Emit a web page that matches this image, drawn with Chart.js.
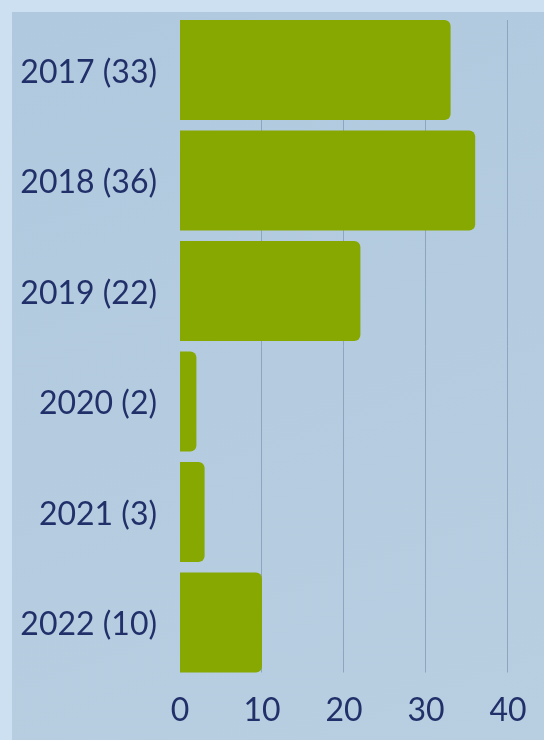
<!DOCTYPE html>
<html>
<head>
<meta charset="utf-8">
<script src="https://cdn.jsdelivr.net/npm/chart.js@4"></script>
<style>
  html, body { margin: 0; padding: 0; }
  body { width: 544px; height: 740px; background: #cde0f2; position: relative; overflow: hidden; }
  #panel { position: absolute; left: 12px; top: 12px; right: 0; bottom: 0;
    background: linear-gradient(160deg, #b0c9de 0%, #b5cce0 50%, #b8cee1 100%); }
  #chart { position: absolute; left: 0; top: 0; }
</style>
</head>
<body>
<div id="panel"></div>
<canvas id="chart" width="544" height="740"></canvas>
<script>
var years = ['2017', '2018', '2019', '2020', '2021', '2022'];
var counts = [33, 36, 22, 2, 3, 10];
var xTicks = [0, 10, 20, 30, 40];

var navy = '#22306a';
var green = '#86a800';
var gridColor = '#8ea5bf';

// 막대 범위 안에서만 세로 격자선 그리기
var gridPlugin = {
  id: 'barGrid',
  beforeDatasetsDraw: function(chart){
    var meta = chart.getDatasetMeta(0);
    var first = meta.data[0];
    var last = meta.data[meta.data.length - 1];
    var top = first.y - first.height / 2;
    var bottom = last.y + last.height / 2;
    var x = chart.scales.x;
    var ctx = chart.ctx;
    ctx.save();
    ctx.strokeStyle = gridColor;
    ctx.lineWidth = 1;
    x.ticks.forEach(function(t){
      if (t.value === 0) return;
      var px = Math.round(x.getPixelForValue(t.value)) - 0.5;
      ctx.beginPath();
      ctx.moveTo(px, top);
      ctx.lineTo(px, bottom);
      ctx.stroke();
    });
    ctx.restore();
  }
};

function drawChart(){
  var ctx = document.getElementById('chart').getContext('2d');
  var labels = years.map(function(y, i){ return y + ' (' + counts[i] + ')'; });

  new Chart(ctx, {
    type: 'bar',
    data: {
      labels: labels,
      datasets: [{
        data: counts,
        backgroundColor: green,
        borderWidth: 0,
        borderRadius: 6,
        barPercentage: 0.905,
        categoryPercentage: 1
      }]
    },
    options: {
      indexAxis: 'y',
      responsive: false,
      animation: false,
      devicePixelRatio: 1,
      layout: { padding: { top: 14.75, right: 36, left: 0, bottom: 0 } },
      plugins: {
        legend: { display: false },
        tooltip: { enabled: false }
      },
      scales: {
        x: {
          min: 0,
          max: 40,
          afterBuildTicks: function(scale){
            scale.ticks = xTicks.map(function(v){ return { value: v }; });
          },
          afterFit: function(scale){
            scale.height = 62.25;
            scale.paddingLeft = 0;
            scale.paddingRight = 0;
          },
          grid: { display: false, drawTicks: false },
          border: { display: false },
          ticks: {
            color: navy,
            padding: 14,
            maxRotation: 0,
            font: { family: 'Lato', size: 32 }
          }
        },
        y: {
          afterFit: function(scale){
            scale.width = 180;
            scale.paddingTop = 0;
            scale.paddingBottom = 0;
          },
          grid: { display: false, drawTicks: false },
          border: { display: false },
          ticks: {
            color: navy,
            padding: 23,
            labelOffset: 2.5,
            font: { family: 'Lato', size: 32 }
          }
        }
      }
    },
    plugins: [gridPlugin]
  });
}

if (document.fonts && document.fonts.load) {
  document.fonts.load('32px Lato').then(drawChart, drawChart);
} else {
  drawChart();
}
</script>
</body>
</html>
